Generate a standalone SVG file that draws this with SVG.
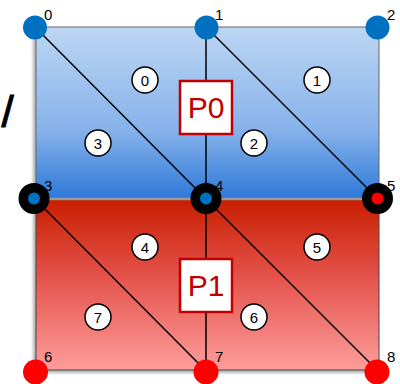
<svg xmlns="http://www.w3.org/2000/svg" width="400" height="384" viewBox="0 0 400 384">
  <defs>
    <linearGradient id="gBlue" x1="0" y1="0" x2="0" y2="1">
      <stop offset="0" stop-color="#bdd6f3"/>
      <stop offset="0.6" stop-color="#86b2ea"/>
      <stop offset="1" stop-color="#2c78d8"/>
    </linearGradient>
    <linearGradient id="gRed" x1="0" y1="0" x2="0" y2="1">
      <stop offset="0" stop-color="#c81e00"/>
      <stop offset="0.45" stop-color="#e4524a"/>
      <stop offset="1" stop-color="#fd9d9b"/>
    </linearGradient>
    <filter id="shadow" x="-10%" y="-10%" width="120%" height="120%">
      <feGaussianBlur stdDeviation="1.5"/>
    </filter>
  </defs>
  <style>
    .edge { stroke: #000; stroke-width: 1.5; fill: none; }
    .tri circle { fill: #fff; stroke: #000; stroke-width: 1.5; }
    .tri text { font-family: "Liberation Sans", Arial, sans-serif; font-size: 15px; text-anchor: middle; fill: #000; }
    .lbl { font-family: "Liberation Sans", Arial, sans-serif; font-size: 15px; fill: #000; }
    .part rect { fill: #fff; stroke: #c00000; stroke-width: 2.5; }
    .part text { font-family: "Liberation Sans", Arial, sans-serif; font-size: 30px; text-anchor: middle; fill: #c00000; }
    .blue { fill: #0070c0; }
    .red { fill: #ff0000; }
    .ring { fill: #000; }
  </style>

  <!-- glyph at left edge -->
  <text x="1.5" y="127" font-family="Liberation Sans, Arial, sans-serif" font-size="44" fill="#000" stroke="#000" stroke-width="1">/</text>

  <!-- shadow -->
  <rect x="33" y="30" width="344" height="343" fill="#000" opacity="0.3" filter="url(#shadow)"/>

  <!-- partitions background -->
  <g id="region-p0">
    <rect x="36" y="27" width="343" height="172" fill="url(#gBlue)" stroke="#666" stroke-width="1"/>
  </g>
  <g id="region-p1">
    <rect x="36" y="199" width="343" height="171" fill="url(#gRed)" stroke="#444" stroke-width="1"/>
  </g>
  <line x1="36" y1="199" x2="379" y2="199" stroke="#9a9a9a" stroke-width="2.5"/>

  <!-- connectors -->
  <g id="connectors">
    <line class="edge" x1="206" y1="27" x2="206" y2="371"/>
    <line class="edge" x1="35" y1="27" x2="206" y2="199"/>
    <line class="edge" x1="206" y1="27" x2="378" y2="199"/>
    <line class="edge" x1="35" y1="199" x2="206" y2="371"/>
    <line class="edge" x1="206" y1="199" x2="378" y2="371"/>
  </g>

  <!-- triangle labels -->
  <g id="tri0" class="tri"><circle cx="145" cy="80" r="13"/><text x="145" y="85.5">0</text></g>
  <g id="tri1" class="tri"><circle cx="317" cy="80" r="13"/><text x="317" y="85.5">1</text></g>
  <g id="tri2" class="tri"><circle cx="254" cy="143" r="13"/><text x="254" y="148.5">2</text></g>
  <g id="tri3" class="tri"><circle cx="98" cy="143" r="13"/><text x="98" y="148.5">3</text></g>
  <g id="tri4" class="tri"><circle cx="145" cy="247" r="13"/><text x="145" y="252.5">4</text></g>
  <g id="tri5" class="tri"><circle cx="317" cy="247" r="13"/><text x="317" y="252.5">5</text></g>
  <g id="tri6" class="tri"><circle cx="254" cy="317" r="13"/><text x="254" y="322.5">6</text></g>
  <g id="tri7" class="tri"><circle cx="98" cy="317" r="13"/><text x="98" y="322.5">7</text></g>

  <!-- partition boxes -->
  <g id="P0" class="part"><rect x="180" y="81" width="52" height="53"/><text x="206" y="118">P0</text></g>
  <g id="P1" class="part"><rect x="180" y="259" width="52" height="53"/><text x="206" y="296">P1</text></g>

  <!-- nodes -->
  <g id="node0"><circle class="blue" cx="35" cy="27.5" r="12"/><text class="lbl" x="44" y="20">0</text></g>
  <g id="node1"><circle class="blue" cx="206.5" cy="27.5" r="12"/><text class="lbl" x="215" y="20">1</text></g>
  <g id="node2"><circle class="blue" cx="377.5" cy="27.5" r="12"/><text class="lbl" x="387" y="20">2</text></g>
  <g id="node3"><circle class="ring" cx="34" cy="198.5" r="15.5"/><circle class="blue" cx="34" cy="198.5" r="6"/><text class="lbl" x="44" y="191">3</text></g>
  <g id="node4"><circle class="ring" cx="206" cy="198.5" r="15.5"/><circle class="blue" cx="206" cy="198.5" r="6"/><text class="lbl" x="215" y="191">4</text></g>
  <g id="node5"><circle class="ring" cx="377.5" cy="198.5" r="15.5"/><circle class="red" cx="377.5" cy="198.5" r="6"/><text class="lbl" x="387" y="191">5</text></g>
  <g id="node6"><circle class="red" cx="35.5" cy="372" r="12.5"/><text class="lbl" x="44" y="362">6</text></g>
  <g id="node7"><circle class="red" cx="206" cy="372" r="12.5"/><text class="lbl" x="215" y="362">7</text></g>
  <g id="node8"><circle class="red" cx="377" cy="372" r="12.5"/><text class="lbl" x="387" y="362">8</text></g>
</svg>
